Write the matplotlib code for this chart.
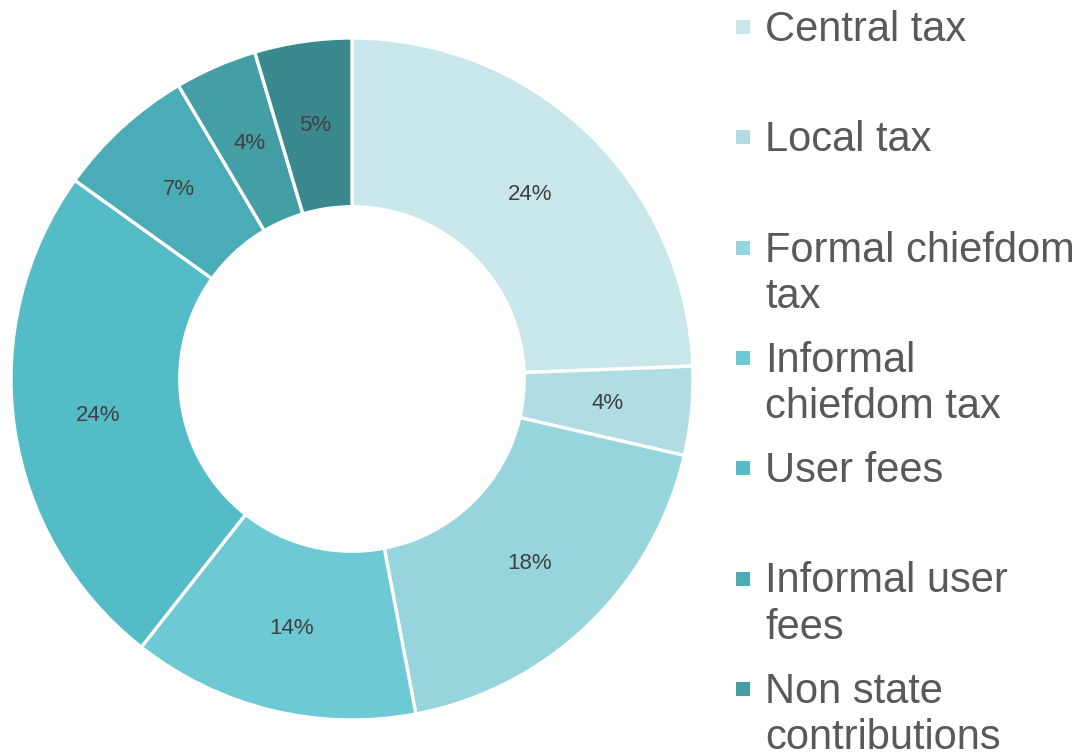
import matplotlib
matplotlib.use("Agg")
import matplotlib.pyplot as plt
from matplotlib.patches import Rectangle
import numpy as np

plt.rcParams['font.family'] = ['Liberation Sans', 'DejaVu Sans']

categories = ["Central tax", "Local tax", "Formal chiefdom\ntax", "Informal\nchiefdom tax",
              "User fees", "Informal user\nfees", "Non state\ncontributions", "Other"]
values = [24.4, 4.2, 18.4, 13.6, 24.3, 6.6, 3.9, 4.6]
colors = ["#c9e6eb", "#b0dde3", "#96d5dc", "#6dc9d3", "#53bcc7", "#4aacb7", "#449ea6", "#3a898f"]

W, H = 1086, 755
fig = plt.figure(figsize=(W / 100, H / 100), dpi=100)
cx, cy, R = 352, 379, 341
ax = fig.add_axes([(cx - R) / W, (H - cy - R) / H, 2 * R / W, 2 * R / H])
wedges, texts = ax.pie(values, colors=colors, startangle=90, counterclock=False, radius=1,
                       wedgeprops=dict(width=0.495, edgecolor="white", linewidth=2.4))
for w, v in zip(wedges, values):
    ang = np.deg2rad((w.theta1 + w.theta2) / 2)
    r = 1 - 0.495 / 2
    ax.text(r * np.cos(ang), r * np.sin(ang), f"{round(v)}%", ha="center", va="center",
            fontsize=16, color="#404040")
ax.set_xlim(-1, 1)
ax.set_ylim(-1, 1)
ax.set_aspect("equal")
ax.axis("off")

# legend
fs = 30
for i, (lab, col) in enumerate(zip(categories, colors)):
    yc = 27 + 110.3 * i
    fig.patches.append(Rectangle((736 / W, (H - yc - 7) / H), 14 / W, 14 / H,
                                 transform=fig.transFigure, facecolor=col, edgecolor="none"))
    fig.text(765 / W, (H - yc + 17) / H, lab, ha="left", va="top", fontsize=fs,
             color="#595959", linespacing=1.2)

fig.savefig("out.png", dpi=100)
